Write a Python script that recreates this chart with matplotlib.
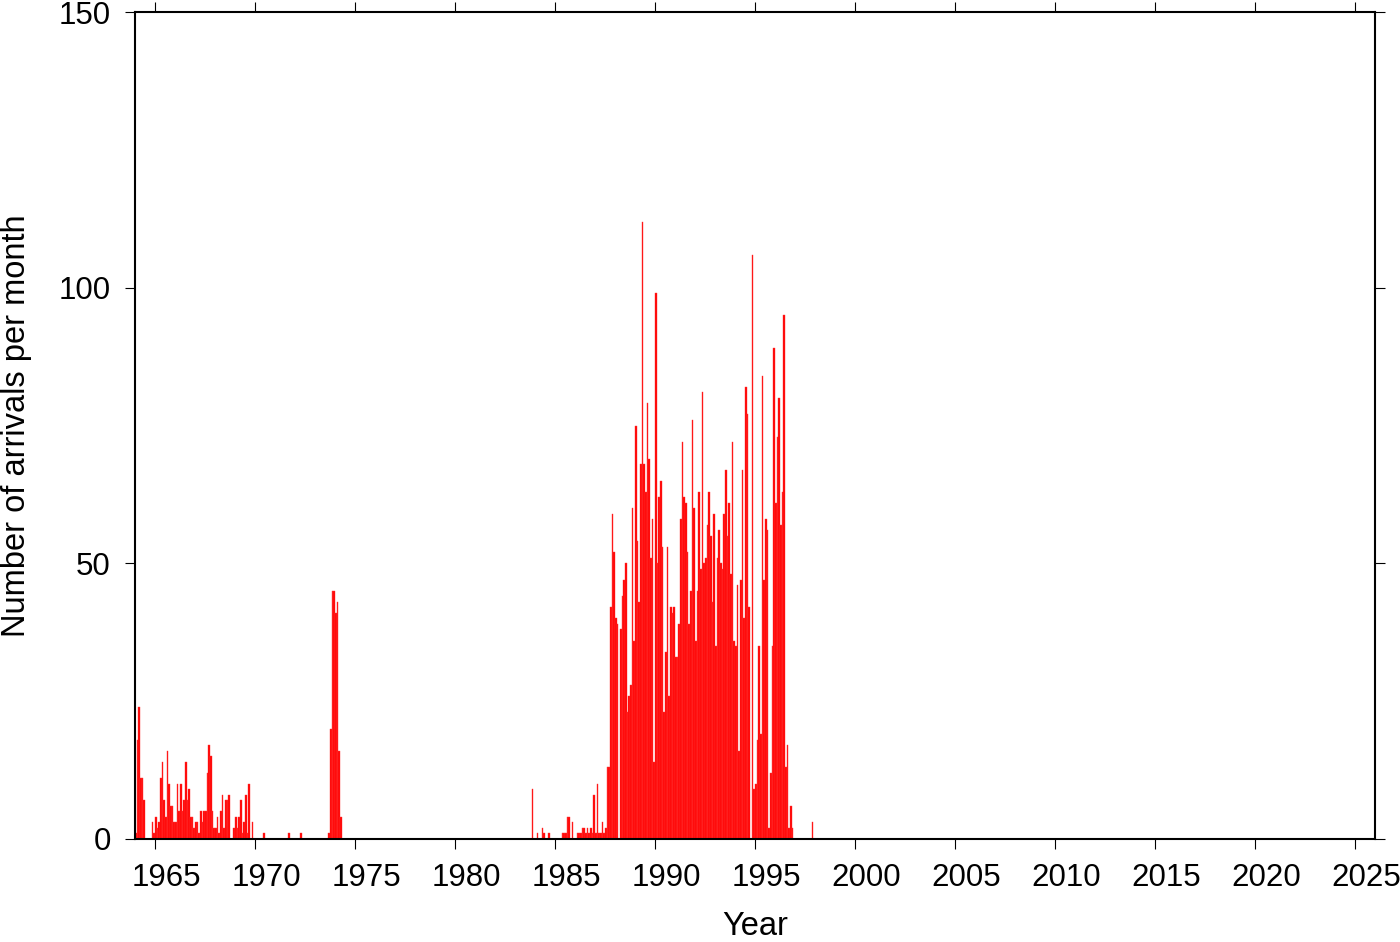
import numpy as np
import matplotlib
matplotlib.use("Agg")
import matplotlib.pyplot as plt
import matplotlib.transforms as mtransforms

plt.rcParams['font.family'] = ['Liberation Sans', 'DejaVu Sans']

# monthly arrival counts, each block starts at the given month (months since Jan 1964)
start_a = 0      # Jan 1964
counts_a = [1, 18, 24, 11, 11, 7, 0, 0, 0, 0,
            3, 1, 4, 2, 3, 11, 14, 7, 4, 16,
            10, 6, 6, 3, 3, 10, 5, 10, 5, 7,
            14, 7, 9, 4, 4, 2, 3, 3, 1, 5,
            3, 5, 5, 12, 17, 15, 5, 2, 2, 4,
            1, 5, 8, 2, 7, 7, 8, 0, 0, 2,
            4, 2, 4, 7, 1, 3, 8, 1, 10, 0,
            3]

sparse_months = [77, 92, 99]
sparse_counts = [1, 1, 1]

start_b = 116    # Sep 1973
counts_b = [1, 20, 45, 45, 41, 43, 16, 4]

start_c = 238    # Nov 1983
counts_c = [9, 0, 0, 1, 0, 0, 2, 1, 0, 0,
            1, 0, 0, 0, 0, 0, 0, 0, 1, 1,
            1, 4, 4, 0, 3, 0, 0, 1, 1, 1,
            2, 2, 1, 2, 1, 2, 1, 8, 1, 10,
            1, 1, 3, 1, 2, 13, 13, 42, 59, 52,
            40, 39, 0, 38, 44, 47, 50, 23, 26, 28,
            60, 36, 75, 54, 43, 68, 112, 68, 63, 79,
            69, 51, 58, 14, 99, 50, 62, 65, 53, 23,
            34, 53, 26, 42, 41, 42, 33, 33, 39, 58,
            72, 62, 61, 52, 39, 45, 76, 60, 36, 45,
            63, 49, 81, 50, 51, 57, 63, 55, 43, 59,
            35, 51, 56, 50, 49, 59, 67, 55, 61, 48,
            72, 36, 35, 46, 16, 47, 67, 40, 82, 77,
            42, 0, 106, 9, 10, 18, 35, 19, 84, 47,
            58, 56, 2, 12, 35, 89, 61, 73, 80, 57,
            63, 95, 13, 17, 2, 6, 2, 0, 0, 0,
            0, 0, 0, 0, 0, 0, 0, 0, 3]

year_ticks = list(range(1965, 2026, 5))
count_ticks = [0, 50, 100, 150]

months = (list(range(start_a, start_a + len(counts_a))) + sparse_months +
          list(range(start_b, start_b + len(counts_b))) +
          list(range(start_c, start_c + len(counts_c))))
counts = counts_a + sparse_counts + counts_b + counts_c
months = np.array(months)
counts = np.array(counts)
x = 1964 + months / 12.0

fig = plt.figure(figsize=(14, 9.42), dpi=100)
ax = fig.add_axes([135/1400, 1 - 839/942, 1240/1400, 827/942])

ax.bar(x[counts > 0], counts[counts > 0], width=1/12, align='edge',
       color='#ff0000', edgecolor='#ff3a3a', linewidth=0.3)

ax.set_xlim(1964, 2026)
ax.set_ylim(0, 150)
ax.set_xticks(year_ticks)
ax.set_yticks(count_ticks)
ax.tick_params(direction='out', length=7.5, width=0.8, labelsize=22.5,
               top=True, right=True, pad=10)
for s in ax.spines.values():
    s.set_linewidth(1.5)

# year labels sit a little right of their ticks
off = mtransforms.ScaledTranslation(0.11, 0, fig.dpi_scale_trans)
for lab in ax.get_xticklabels():
    lab.set_transform(lab.get_transform() + off)

ax.set_xlabel('Year', fontsize=23.5, labelpad=13)
ax.set_ylabel('Number of arrivals per month', fontsize=23.5, labelpad=19)

plt.savefig('out.png', dpi=100)
